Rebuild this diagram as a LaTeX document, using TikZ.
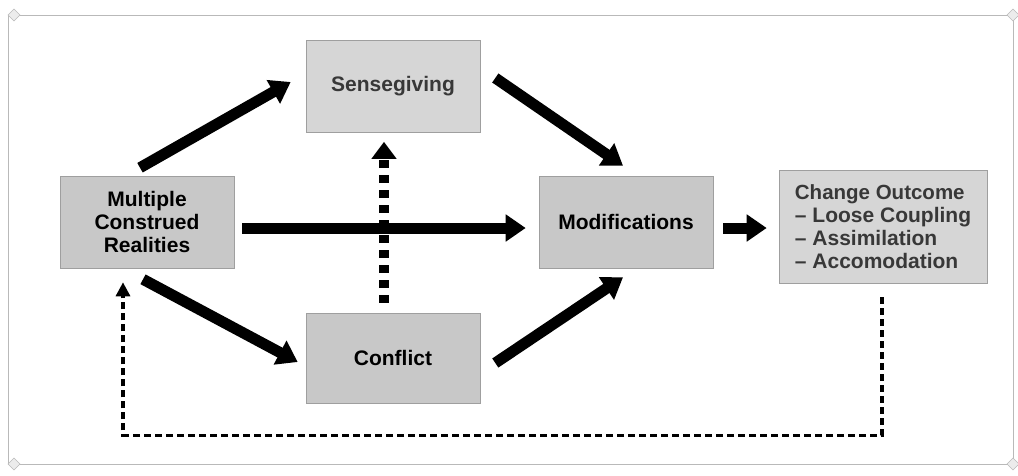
\documentclass[tikz,border=0pt]{standalone}
\usepackage{fontspec}
\setmainfont{Liberation Sans}
\usetikzlibrary{arrows.meta,calc}
\definecolor{boxA}{HTML}{C8C8C8}
\definecolor{boxB}{HTML}{D6D6D6}
\definecolor{txtB}{HTML}{383838}
\tikzset{
  box/.style={draw=gray!75, line width=0.6pt, fill=boxA, minimum width=174pt, minimum height=92pt,
    align=center, font=\fontsize{21}{23}\selectfont\bfseries, inner sep=0pt},
  lightbox/.style={box, fill=boxB, text=txtB},
  bigarrow/.style={line width=11pt, -{Triangle[width=26pt,length=20pt]}},
  dasharrow/.style={line width=9.5pt, dash pattern=on 8pt off 7pt, -{Triangle[width=24pt,length=17pt]}},
  feedback/.style={line width=3.2pt, dash pattern=on 7pt off 4pt, -{Triangle[width=14pt,length=14pt]}},
  frame/.style={draw=gray!55, line width=0.7pt},
  orn/.style={draw=gray!55, line width=0.6pt, fill=gray!15}
}
\begin{document}
\begin{tikzpicture}[x=1pt,y=-1pt]
\useasboundingbox (0,0) rectangle (1018,475);
% frame
\draw[frame] (8,15) rectangle (1013,464);
\foreach \p in {(14,15),(1013,15),(14,464),(1013,464)}{
  \draw[orn] \p ++(-6,0) -- ++(6,-6) -- ++(6,6) -- ++(-6,6) -- cycle;
}
% boxes
\node[box] (mcr) at (147,222) {Multiple\\Construed\\Realities};
\node[lightbox] (sense) at (393,86.5) {Sensegiving};
\node[box, minimum height=90pt] (conf) at (393,358) {Conflict};
\node[box] (mod) at (626,222) {Modifications};
\node[lightbox, minimum width=208pt, minimum height=113pt, align=left] (co) at (883,226.5)
  {\fontsize{20.5}{20.5}\selectfont Change Outcome\\
   -- Loose Coupling\\
   -- Assimilation\\
   -- Accomodation};
% thick arrows
\draw[bigarrow] ($(mcr.north)+(-7,-8)$) -- ($(sense.west)+(-15,-4.5)$);
\draw[bigarrow] ($(sense.east)+(15,-8.5)$) -- ($(mod.north)+(-3,-10)$);
\draw[bigarrow] ($(mcr.east)+(8,6)$) -- ($(mod.west)+(-13,6)$);
\draw[bigarrow] ($(mcr.south)+(-4,11)$) -- ($(conf.west)+(-8,4)$);
\draw[bigarrow] ($(conf.east)+(15,5)$) -- ($(mod.south)+(-3,9)$);
\draw[bigarrow] ($(mod.east)+(10,6)$) -- ($(co.west)+(-12,1.5)$);
% dashed thick arrow
\draw[dasharrow] ($(conf.north)+(-9,-10)$) -- ($(sense.south)+(-9,9)$);
% feedback loop
\coordinate (fbstart) at ($(co.south)+(-1,14)$);
\coordinate (fbend) at ($(mcr.south)+(-24,14)$);
\draw[feedback] (fbstart) -- ++(0,138) -| (fbend);
\end{tikzpicture}
\end{document}
